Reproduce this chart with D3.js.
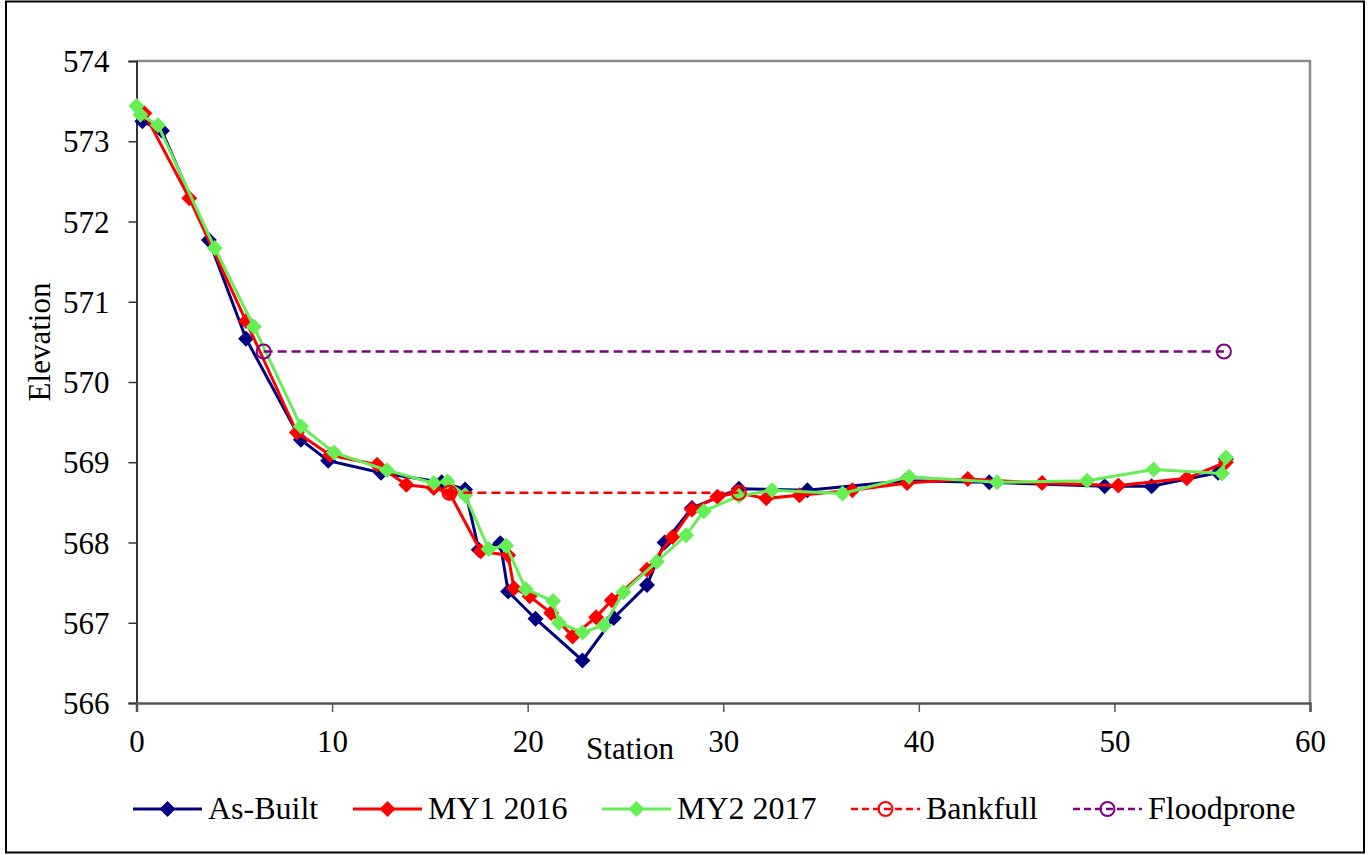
<!DOCTYPE html>
<html>
<head>
<meta charset="utf-8">
<script src="https://cdn.jsdelivr.net/npm/d3@7"></script>
<style>
  body { margin: 0; background: #fff; }
  text { font-family: "Liberation Serif", "Times New Roman", serif; fill: #000; }
</style>
</head>
<body>
<div class="chart"></div>
<script>
// data: [station, elevation]
var asBuilt = [[0.3,573.25],[1.3,573.13],[3.7,571.77],[5.6,570.54],[8.4,569.28],[9.8,569.02],[12.5,568.87],[15.6,568.75],[16.8,568.66],[17.5,567.91],[18.6,567.99],[19.0,567.39],[20.4,567.05],[22.8,566.53],[24.4,567.06],[26.1,567.47],[27.0,568.0],[28.4,568.43],[30.8,568.67],[34.3,568.65],[39.3,568.77],[43.6,568.75],[49.5,568.7],[51.9,568.7],[55.3,568.87],[55.7,569.04]]
var my1 = [[0.4,573.35],[2.7,572.29],[5.6,570.76],[8.2,569.37],[9.9,569.09],[12.3,568.97],[13.8,568.72],[15.2,568.68],[16.0,568.62],[17.6,567.89],[19.0,567.84],[19.3,567.43],[20.1,567.33],[21.2,567.12],[22.3,566.83],[23.5,567.07],[24.3,567.28],[26.1,567.66],[27.4,568.07],[28.4,568.41],[29.7,568.57],[30.7,568.62],[32.2,568.55],[33.9,568.59],[36.6,568.65],[39.4,568.74],[42.5,568.79],[46.3,568.74],[50.2,568.71],[53.7,568.8],[55.7,569.0]]
var my2 = [[0,573.44],[0.2,573.33],[1.1,573.2],[4.0,571.67],[6.0,570.69],[8.4,569.45],[10.1,569.12],[12.8,568.9],[15.2,568.74],[15.9,568.76],[16.8,568.59],[18.0,567.92],[18.9,567.96],[19.9,567.42],[21.3,567.27],[21.6,567.0],[22.8,566.88],[23.9,566.97],[24.9,567.38],[26.6,567.76],[28.1,568.09],[29.0,568.39],[30.8,568.58],[32.5,568.65],[36.1,568.61],[39.5,568.82],[44.0,568.75],[48.6,568.77],[52.0,568.91],[55.5,568.86],[55.7,569.06]]
var bankfull = [[16.0,568.62],[30.8,568.62]]
var floodprone = [[6.5,570.38],[55.6,570.38]]

var xTicks = [0, 10, 20, 30, 40, 50, 60]
var yTicks = [566, 567, 568, 569, 570, 571, 572, 573, 574]

var series = [
  {name: 'As-Built', data: asBuilt, color: '#000080', marker: 'diamond', dash: null},
  {name: 'MY1 2016', data: my1, color: '#ff0000', marker: 'diamond', dash: null},
  {name: 'MY2 2017', data: my2, color: '#66ee55', marker: 'diamond', dash: null},
  {name: 'Bankfull', data: bankfull, color: '#ff0000', marker: 'circle', dash: '9,5'},
  {name: 'Floodprone', data: floodprone, color: '#800080', marker: 'circle', dash: '9,5'}
]

var W = 1371, H = 855
var plotLeft = 136.5, plotRight = 1310, plotTop = 61, plotBottom = 703

var svg = d3.select('.chart')
  .append('svg')
  .attr('width', W)
  .attr('height', H)

// outer frame
svg.append('rect')
  .attr('x', 6).attr('y', 1.5)
  .attr('width', 1358).attr('height', 851)
  .attr('fill', '#fff')
  .attr('stroke', '#000')
  .attr('stroke-width', 2)

var x = d3.scaleLinear().domain([0, 60]).range([plotLeft, plotRight])
var y = d3.scaleLinear().domain([566, 574]).range([plotBottom, plotTop])

// plot area border (top and right gray)
svg.append('path')
  .attr('d', 'M' + plotLeft + ',' + plotTop + 'H' + plotRight + 'V' + plotBottom)
  .attr('fill', 'none')
  .attr('stroke', '#8c8c8c')
  .attr('stroke-width', 2.5)

var yAxis = svg.append('g')
  .attr('transform', 'translate(' + plotLeft + ',0)')
  .call(d3.axisLeft(y).tickValues(yTicks).tickSize(8).tickPadding(19).tickFormat(d3.format('d')))
yAxis.select('.domain').attr('stroke', '#333').attr('stroke-width', 2)
yAxis.selectAll('.tick line').attr('stroke', '#333').attr('stroke-width', 1.5)
yAxis.selectAll('.tick text')
  .style('font-size', '31px')
  .style('font-family', '"Liberation Serif", serif')
  .attr('dy', '0.34em')

var xAxis = svg.append('g')
  .attr('transform', 'translate(0,' + plotBottom + ')')
  .call(d3.axisBottom(x).tickValues(xTicks).tickSize(9).tickPadding(18))
xAxis.select('.domain').attr('stroke', '#555').attr('stroke-width', 2.5)
xAxis.selectAll('.tick line').attr('stroke', '#555').attr('stroke-width', 1.5)
xAxis.selectAll('.tick text')
  .style('font-size', '31px')
  .style('font-family', '"Liberation Serif", serif')

// axis titles
svg.append('text')
  .attr('x', 630).attr('y', 759)
  .attr('text-anchor', 'middle')
  .style('font-size', '31px')
  .text('Station')

svg.append('text')
  .attr('transform', 'translate(50,342) rotate(-90)')
  .attr('text-anchor', 'middle')
  .style('font-size', '31px')
  .text('Elevation')

var diamond = 'M0,-8L8,0L0,8L-8,0Z'

function drawMarker(g, s, px, py) {
  if (s.marker === 'diamond') {
    g.append('path')
      .attr('d', diamond)
      .attr('transform', 'translate(' + px + ',' + py + ')')
      .attr('fill', s.color)
  } else {
    g.append('circle')
      .attr('cx', px).attr('cy', py).attr('r', 7)
      .attr('fill', 'none')
      .attr('stroke', s.color)
      .attr('stroke-width', 2)
  }
}

var line = d3.line()
  .x(function(d) { return x(d[0]) })
  .y(function(d) { return y(d[1]) })

series.forEach(function(s) {
  var g = svg.append('g')
  g.append('path')
    .datum(s.data)
    .attr('d', line)
    .attr('fill', 'none')
    .attr('stroke', s.color)
    .attr('stroke-width', s.dash ? 2.5 : 3)
    .attr('stroke-dasharray', s.dash)
  s.data.forEach(function(d) {
    drawMarker(g, s, x(d[0]), y(d[1]))
  })
})

// legend
var legendX = [133, 353, 602, 851, 1073]
series.forEach(function(s, i) {
  var g = svg.append('g').attr('transform', 'translate(' + legendX[i] + ',809)')
  g.append('line')
    .attr('x1', 0).attr('x2', 69)
    .attr('stroke', s.color)
    .attr('stroke-width', s.dash ? 2.5 : 3)
    .attr('stroke-dasharray', s.dash ? '7,4' : null)
  drawMarker(g, s, 34.5, 0)
  g.append('text')
    .attr('x', 75).attr('y', 10)
    .style('font-size', '32px')
    .text(s.name)
})
</script>
</body>
</html>
